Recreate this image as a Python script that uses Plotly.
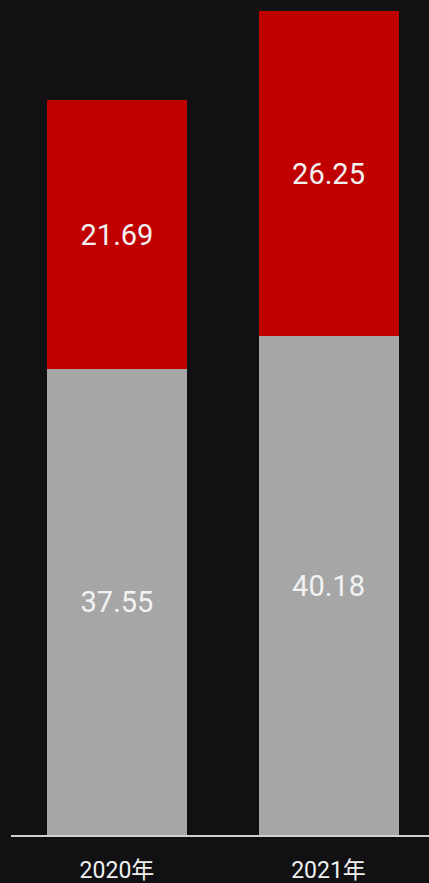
import plotly.graph_objects as go

years = ["2020年", "2021年"]
base_values = [37.55, 40.18]
top_values = [21.69, 26.25]

GREY = "#a6a6a6"
RED = "#c00000"
BG = "#111114"
FONT = "Roboto, Arial, sans-serif"

fig = go.Figure()
fig.add_trace(go.Bar(
    x=years, y=base_values, marker_color=GREY, marker_line_width=0,
    text=[f"{v:.2f}" for v in base_values], textposition="inside",
    insidetextanchor="middle", textfont=dict(color="#f2f2f2", size=29, family=FONT),
    width=0.662,
))
fig.add_trace(go.Bar(
    x=years, y=top_values, marker_color=RED, marker_line_width=0,
    text=[f"{v:.2f}" for v in top_values], textposition="inside",
    insidetextanchor="middle", textfont=dict(color="#f2f2f2", size=29, family=FONT),
    width=0.662,
))

fig.update_layout(
    width=429, height=883, barmode="stack", showlegend=False,
    margin=dict(l=11, r=0, t=0, b=48),
    paper_bgcolor=BG, plot_bgcolor=BG,
    xaxis=dict(
        range=[-0.501, 1.475], showgrid=False, zeroline=False,
        showline=True, linecolor="#d0d0d0", linewidth=2,
        ticks="", ticklabelstandoff=13,
        tickfont=dict(color="#f0f0f0", size=23,
                      family="Roboto, Noto Sans CJK SC, sans-serif"),
    ),
    yaxis=dict(range=[0, 67.3], visible=False, showgrid=False, zeroline=False),
)

# page body has an 8px default margin; drop it so the figure fills the window
fig.write_html("out.html", config={"displayModeBar": False},
               post_script="document.body.style.margin='0';"
               "document.body.style.background='#111114';")
